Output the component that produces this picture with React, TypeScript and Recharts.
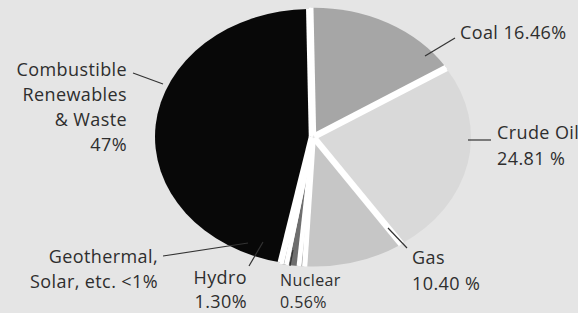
import React from 'react';
import { PieChart, Pie, Cell } from 'recharts';

// energy supply shares, clockwise from the top
const sources = ['Coal', 'Crude Oil', 'Gas', 'Nuclear', 'Hydro', 'Geothermal', 'Combustible'];
const shares = [16.46, 24.81, 10.4, 0.56, 1.3, 0.5, 47];
const labelLines = [
  ['Coal 16.46%'],
  ['Crude Oil', '24.81 %'],
  ['Gas', '10.40 %'],
  ['Nuclear', '0.56%'],
  ['Hydro', '1.30%'],
  ['Geothermal,', 'Solar, etc. <1%'],
  ['Combustible', 'Renewables', '& Waste', '47%'],
];

const colors = ['#a6a6a6', '#d9d9d9', '#c6c6c6', '#9a9a9a', '#6e6e6e', '#858585', '#080808'];

const data = sources.map((name, i) => ({ name, value: shares[i] }));

// where each callout sits: text anchor, first baseline, line gap, font size, leader line
const calloutLayout = [
  { x: 460, y: 39, anchor: 'start', gap: 25, size: 18, line: [[425, 56], [455, 38]] },
  { x: 497, y: 139, anchor: 'start', gap: 26, size: 18, line: [[468, 140], [491, 140]] },
  { x: 412, y: 264, anchor: 'start', gap: 26, size: 18, line: [[388, 228], [407, 248]] },
  { x: 280, y: 286, anchor: 'start', gap: 22, size: 16, line: [[293, 250], [290, 266]] },
  { x: 247, y: 284, anchor: 'end', gap: 24, size: 18, line: [[263, 242], [249, 266]] },
  { x: 158, y: 263, anchor: 'end', gap: 25, size: 18, line: [[248, 243], [163, 256]] },
  { x: 127, y: 76, anchor: 'end', gap: 25, size: 18, line: [[163, 84], [133, 73]] },
];

const K = 0.82; // vertical squash of the pie
const RAD = Math.PI / 180;
const EXPLODE = 2;

const pt = (cx: number, cy: number, r: number, a: number) => [
  cx + r * Math.cos(a * RAD),
  cy - r * K * Math.sin(a * RAD),
];

function EllipseSector(props: any) {
  const { cx, cy, outerRadius, startAngle, endAngle, fill } = props;
  const mid = (startAngle + endAngle) / 2;
  const x0 = cx + EXPLODE * Math.cos(mid * RAD);
  const y0 = cy - EXPLODE * K * Math.sin(mid * RAD);
  const [x1, y1] = pt(x0, y0, outerRadius, startAngle);
  const [x2, y2] = pt(x0, y0, outerRadius, endAngle);
  const large = Math.abs(startAngle - endAngle) > 180 ? 1 : 0;
  const sweep = startAngle > endAngle ? 1 : 0;
  const d = `M${x0},${y0} L${x1},${y1} A${outerRadius},${outerRadius * K} 0 ${large} ${sweep} ${x2},${y2} Z`;
  return (
    <g>
      <path d={d} fill={fill} />
      <line x1={x0} y1={y0} x2={x1} y2={y1} stroke="#fff" strokeWidth={4.5} />
      <line x1={x0} y1={y0} x2={x2} y2={y2} stroke="#fff" strokeWidth={4.5} />
    </g>
  );
}

function Callout(props: any) {
  let i = props.index;
  if (i == null) i = sources.indexOf(props.name ?? props.payload?.name);
  const c = calloutLayout[i];
  if (!c) return null;
  return (
    <g>
      <line
        x1={c.line[0][0]} y1={c.line[0][1]} x2={c.line[1][0]} y2={c.line[1][1]}
        stroke="#333" strokeWidth={1.2}
      />
      <text
        x={c.x} y={c.y} textAnchor={c.anchor} fill="#2e2e2e"
        fontSize={c.size} letterSpacing={0.4} fontFamily="'Open Sans', sans-serif"
      >
        {labelLines[i].map((t, j) => (
          <tspan key={j} x={c.x} dy={j === 0 ? 0 : c.gap}>{t}</tspan>
        ))}
      </text>
    </g>
  );
}

export default function App() {
  return (
    <div style={{ position: 'absolute', left: 0, top: 0, width: 578, height: 313, background: '#e5e5e5' }}>
      <PieChart width={578} height={313} margin={{ top: 0, right: 0, bottom: 0, left: 0 }}>
        <Pie
          data={data}
          dataKey="value"
          nameKey="name"
          cx={313}
          cy={137}
          outerRadius={156}
          startAngle={91}
          endAngle={-269}
          shape={EllipseSector}
          label={Callout}
          labelLine={false}
          isAnimationActive={false}
        >
          {data.map((d, i) => (
            <Cell key={d.name} fill={colors[i]} />
          ))}
        </Pie>
      </PieChart>
    </div>
  );
}
